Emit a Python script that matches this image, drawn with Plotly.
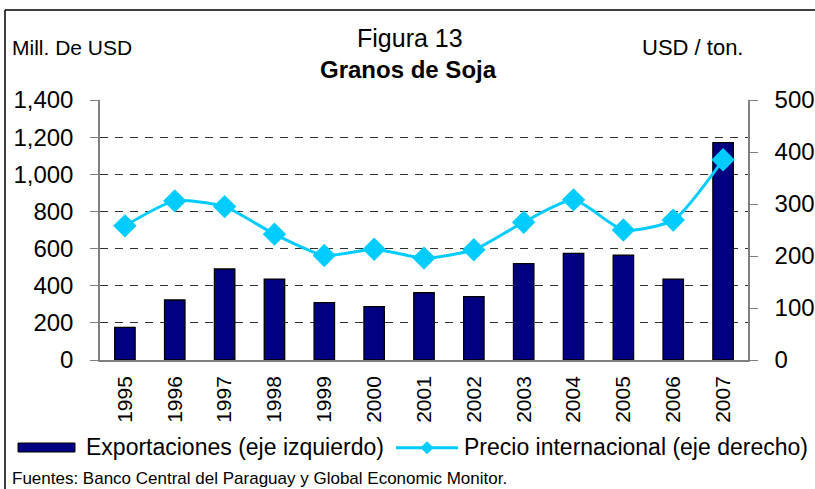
import plotly.graph_objects as go

years = ["1995", "1996", "1997", "1998", "1999", "2000", "2001",
         "2002", "2003", "2004", "2005", "2006", "2007"]
exportaciones = [176, 323, 490, 436, 309, 287, 362, 341, 519, 574, 565, 436, 1170]
precio = [258, 306, 295, 242, 201, 213, 196, 212, 265, 308, 250, 269, 385]
left_ticks = [0, 200, 400, 600, 800, 1000, 1200, 1400]
right_ticks = [0, 100, 200, 300, 400, 500]

W, H = 815, 489
L, R, T, B = 100, 748, 100, 360


def px(x):
    return (x - L) / (R - L)


def py(y):
    return (B - y) / (B - T)


FONT = "Liberation Sans, Arial, sans-serif"
NAVY = "#000080"
CYAN = "#00CCFF"

fig = go.Figure()
fig.add_trace(go.Bar(
    x=years, y=exportaciones, name="Exportaciones (eje izquierdo)",
    marker=dict(color=NAVY, line=dict(color="black", width=1.3)),
    width=0.41, yaxis="y", showlegend=False,
))
fig.add_trace(go.Scatter(
    x=years, y=precio, name="Precio internacional (eje derecho)",
    mode="lines+markers", yaxis="y2", showlegend=False,
    line=dict(color=CYAN, width=3, shape="spline", smoothing=0.6),
    marker=dict(symbol="diamond", size=18, color=CYAN),
))

fig.update_layout(
    width=W, height=H, autosize=False,
    margin=dict(l=L, r=W - R, t=T, b=H - B, pad=0, autoexpand=False),
    paper_bgcolor="white", plot_bgcolor="white",
    font=dict(family=FONT, color="black"),
    bargap=0.59,
    xaxis=dict(
        type="category", range=[-0.5, len(years) - 0.5], autorange=False,
        tickangle=-90, ticks="", showgrid=False, automargin=False,
        tickfont=dict(size=21, family=FONT), showline=True,
        linecolor="#808080", linewidth=1.5, ticklabelstandoff=6,
    ),
    yaxis=dict(
        range=[0, 1400], tickvals=left_ticks, tickformat=",",
        tickfont=dict(size=24, family=FONT), showgrid=True, automargin=False,
        gridcolor="#303030", griddash="8px,7px", gridwidth=1,
        showline=True, linecolor="#808080", linewidth=1.5,
        ticks="outside", ticklen=8, tickcolor="#808080",
        ticklabelstandoff=12, zeroline=False,
    ),
    yaxis2=dict(
        range=[0, 500], tickvals=right_ticks, overlaying="y", side="right",
        tickfont=dict(size=24, family=FONT), showgrid=False, automargin=False,
        showline=True, linecolor="#808080", linewidth=1.5,
        ticks="outside", ticklen=8, tickcolor="#808080",
        ticklabelstandoff=12, zeroline=False,
    ),
)

shapes = [
    dict(type="line", xref="paper", yref="paper", x0=px(5), x1=px(815),
         y0=py(10), y1=py(10), line=dict(color="black", width=1.5)),
    dict(type="line", xref="paper", yref="paper", x0=px(5), x1=px(5),
         y0=py(10), y1=py(489), line=dict(color="black", width=1.5)),
    # legend symbols
    dict(type="rect", xref="paper", yref="paper", x0=px(18), x1=px(75),
         y0=py(452), y1=py(443), fillcolor=NAVY,
         line=dict(color="black", width=1)),
    dict(type="line", xref="paper", yref="paper", x0=px(396), x1=px(458),
         y0=py(447.7), y1=py(447.7), line=dict(color=CYAN, width=3)),
    dict(type="path", xref="paper", yref="paper",
         path=f"M {px(421)} {py(447.7)} L {px(427)} {py(441.7)} L {px(433)} {py(447.7)} L {px(427)} {py(453.7)} Z",
         fillcolor=CYAN, line=dict(color=CYAN, width=1)),
]
fig.update_layout(shapes=shapes)

ann = [
    dict(text="Figura 13", x=px(410), y=py(38), font=dict(size=25)),
    dict(text="<b>Granos de Soja</b>", x=px(408), y=py(69), font=dict(size=24)),
    dict(text="Mill. De USD", x=px(10), y=py(47), xanchor="left", font=dict(size=21)),
    dict(text="USD / ton.", x=px(640), y=py(47), xanchor="left", font=dict(size=22)),
    dict(text="Exportaciones (eje izquierdo)", x=px(84), y=py(447), xanchor="left", font=dict(size=23)),
    dict(text="Precio internacional (eje derecho)", x=px(462), y=py(447), xanchor="left", font=dict(size=23)),
    dict(text="Fuentes: Banco Central del Paraguay y Global Economic Monitor.",
         x=px(10), y=py(478), xanchor="left", font=dict(size=17)),
]
for a in ann:
    a.setdefault("xanchor", "center")
    a.update(xref="paper", yref="paper", showarrow=False, yanchor="middle")
    a["font"].setdefault("family", FONT)
    a["font"].setdefault("color", "black")
fig.update_layout(annotations=ann)

fig.write_html("out.html", config={"displayModeBar": False})

# remove the default page margin so the figure sits at the window's corner
with open("out.html", "r", encoding="utf-8") as f:
    html = f.read()
html = html.replace("<head>", "<head><style>html,body{margin:0;padding:0;overflow:hidden;}</style>", 1)
with open("out.html", "w", encoding="utf-8") as f:
    f.write(html)
